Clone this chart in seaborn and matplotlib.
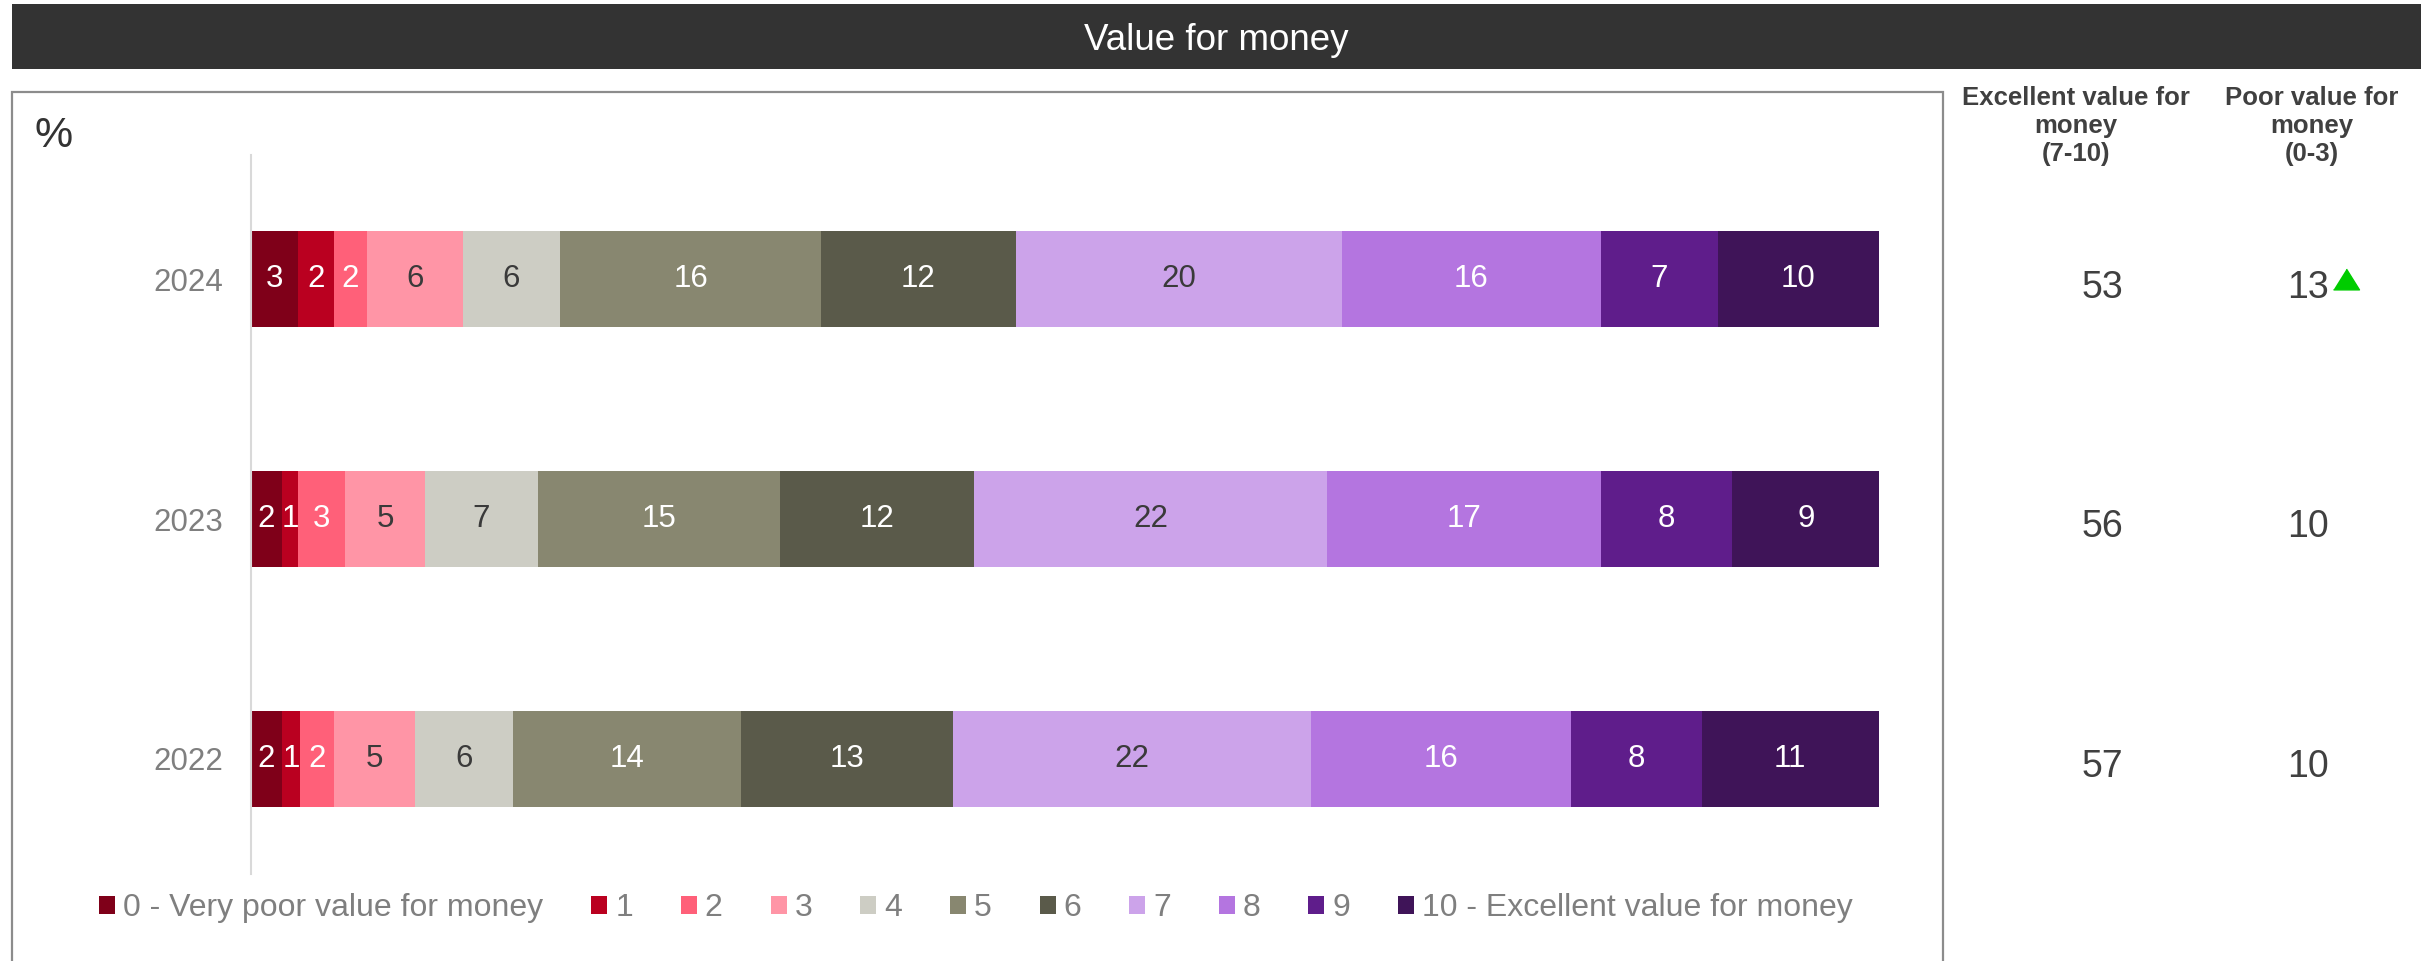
import matplotlib
matplotlib.use("Agg")
import matplotlib.pyplot as plt
import matplotlib.transforms as mtransforms
from matplotlib.patches import Rectangle, Patch
import numpy as np
import seaborn as sns

# data (%), rows = survey year
years = ["2024", "2023", "2022"]
scores = ["0 - Very poor value for money", "1", "2", "3", "4", "5", "6",
          "7", "8", "9", "10 - Excellent value for money"]
share_2024 = [2.9, 2.2, 2.0, 5.9, 6.0, 16.0, 12.0, 20.0, 15.9, 7.2, 9.9]
share_2023 = [1.9, 1.0, 2.9, 4.9, 6.9, 14.9, 11.9, 21.7, 16.8, 8.1, 9.0]
share_2022 = [1.9, 1.1, 2.1, 5.0, 6.0, 14.0, 13.0, 22.0, 16.0, 8.0, 10.9]
excellent = [53, 56, 57]          # 7-10
poor = [13, 10, 10]               # 0-3
poor_sig_up = [True, False, False]

header_excellent = ["Excellent value for", "money", "(7-10)"]
header_poor = ["Poor value for", "money", "(0-3)"]

colors = ["#7F0019", "#BA0020", "#FF6079", "#FF95A6", "#CDCDC4", "#888770",
          "#5A5A4A", "#CCA3EA", "#B475E0", "#5F1D8B", "#3F1458"]
dark_label = {3, 4, 7}

sns.set_theme(style="white")
plt.rcParams["font.family"] = ["Liberation Sans", "DejaVu Sans"]

W, H = 2433, 961
fig = plt.figure(figsize=(W / 100, H / 100), dpi=100)

# title bar and the grey frame round the chart
fig.patches.append(Rectangle((12 / W, 1 - 69 / H), 2409 / W, 65 / H,
                             transform=fig.transFigure, facecolor="#333333",
                             edgecolor="none", zorder=0))
fig.text(0.4998, 1 - 41 / H, "Value for money", color="white", fontsize=26.5,
         ha="center", va="center")
fig.patches.append(Rectangle((12 / W, -0.02), 1931 / W, 1 - 92 / H + 0.02,
                             transform=fig.transFigure, fill=False,
                             edgecolor="#8C8C8C", lw=1.6, zorder=0))
fig.text(35 / W, 1 - 147 / H, "%", fontsize=31, color="#333333",
         ha="left", va="baseline")

ax = fig.add_axes([251 / W, 1 - 874 / H, 1628 / W, 719 / H])

shares = np.array([share_2024, share_2023, share_2022])
starts = np.cumsum(shares, axis=1) - shares

for i, score in enumerate(scores):
    sns.barplot(x=shares[:, i], y=years, order=years, left=starts[:, i],
                orient="h", color=colors[i], saturation=1, width=0.4,
                errorbar=None, linewidth=0, ax=ax)
    ax.bar_label(ax.containers[-1], labels=[f"{v:.0f}" for v in shares[:, i]],
                 label_type="center", fontsize=22.5,
                 color="#3A3A3A" if i in dark_label else "white")

ylo, yhi = 2.481, -0.519
ax.set_xlim(0, 100)
ax.set_ylim(ylo, yhi)
ax.set_xlabel("")
ax.set_ylabel("")
ax.xaxis.set_visible(False)
for s in ["top", "right", "bottom"]:
    ax.spines[s].set_visible(False)
ax.spines["left"].set_color("#D9D9D9")
ax.spines["left"].set_linewidth(1.5)
ax.set_yticks([yhi, 0.5, 1.5, ylo], minor=True)
ax.tick_params(axis="y", which="major", length=0, pad=20, labelsize=22.5,
               labelcolor="#7F7F7F")
ax.tick_params(axis="y", which="minor", length=8, width=1.5, color="#D9D9D9")

# summary columns on the right
trans = mtransforms.blended_transform_factory(fig.transFigure, ax.transData)
for j, (a, b) in enumerate(zip(header_excellent, header_poor)):
    yb = 1 - (105 + 28 * j) / H
    fig.text(2076 / W, yb, a, fontsize=18.5, fontweight="bold", color="#404040",
             ha="center", va="baseline")
    fig.text(2312 / W, yb, b, fontsize=18.5, fontweight="bold", color="#404040",
             ha="center", va="baseline")

for k, yr in enumerate(years):
    ax.text(2102 / W, k + 0.035, str(excellent[k]), transform=trans,
            fontsize=27, color="#404040", ha="center", va="center")
    ax.text(2308 / W, k + 0.035, str(poor[k]), transform=trans,
            fontsize=27, color="#404040", ha="center", va="center")
    if poor_sig_up[k]:
        ax.plot([2346 / W], [k], transform=trans, ls="none",
                marker=[(-1, -0.8), (1, -0.8), (0, 0.8)], ms=18.7,
                color="#00CC00", clip_on=False)

handles = [Patch(facecolor=c, edgecolor="none", label=s)
           for c, s in zip(colors, scores)]
fig.legend(handles=handles, loc="center", bbox_to_anchor=(976 / W, 1 - 908 / H),
           ncol=11, frameon=False, fontsize=23, handlelength=0.5,
           handleheight=0.5, handletextpad=0.25, columnspacing=1.5,
           labelcolor="#7F7F7F", borderpad=0, borderaxespad=0)

fig.savefig("out.png", dpi=100)
